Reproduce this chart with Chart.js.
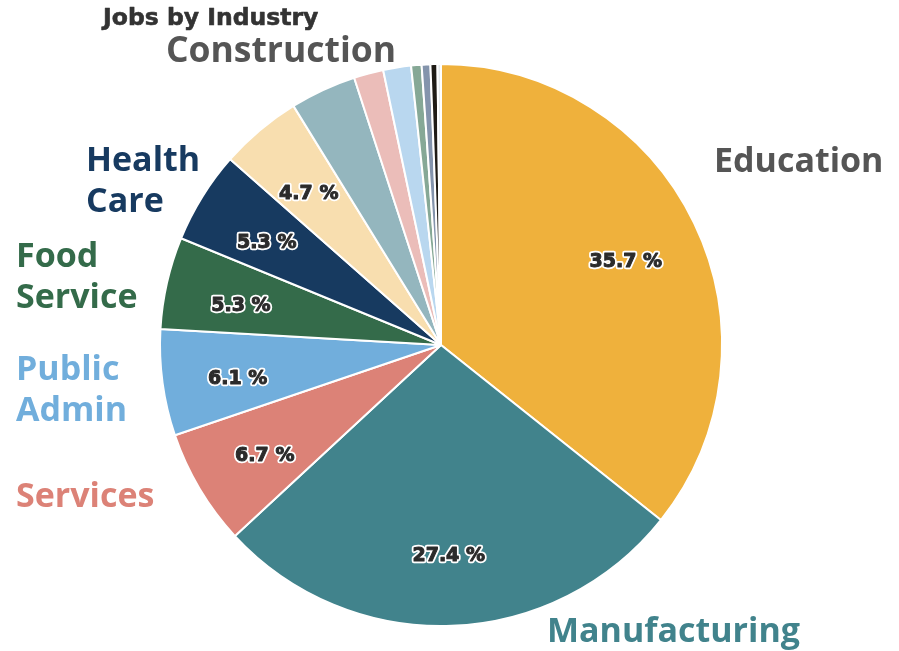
<!DOCTYPE html>
<html>
<head>
<meta charset="utf-8">
<script src="https://cdn.jsdelivr.net/npm/chart.js@4"></script>
<style>
  html, body { margin: 0; padding: 0; background: #fff; }
  #wrap { width: 899px; height: 651px; position: relative; }
</style>
</head>
<body>
<div id="wrap"><canvas id="jobsChart" width="899" height="651"></canvas></div>
<script>
const industries = ['Education', 'Manufacturing', 'Services', 'Public Admin', 'Food Service', 'Health Care',
    'Construction', 'Other 1', 'Other 2', 'Other 3', 'Other 4', 'Other 5', 'Other 6', 'Other 7'];
const shares = [35.7, 27.4, 6.7, 6.1, 5.3, 5.3, 4.7, 3.8, 1.7, 1.6, 0.6, 0.5, 0.4, 0.2];
const sliceColors = ['#EFB13C', '#41838C', '#DC8277', '#71AEDC', '#346B4A', '#173A60',
    '#F8DEAF', '#94B6BE', '#EBBDB9', '#B9D7EF', '#86A896', '#8494AC', '#1F1B15', '#E6EBED'];

// outside category labels (only the named industries)
const labelText = [['Education'], ['Manufacturing'], ['Services'], ['Public', 'Admin'], ['Food', 'Service'], ['Health', 'Care'], ['Construction']];
const labelColors = ['#555555', '#41838C', '#DC8277', '#71AEDC', '#346B4A', '#173A60', '#555555'];
const labelPos = [ // x, first baseline, align, font size
    [714, 172, 'left', 34], [547, 642, 'left', 34], [16, 507, 'left', 34], [16, 380, 'left', 34],
    [16, 267, 'left', 34], [86, 171, 'left', 34], [281, 62, 'center', 35.5]
];

const total = shares.reduce((a, b) => a + b, 0);

const labelPlugin = {
    id: 'labelPlugin',
    afterDraw(chart) {
        const ctx = chart.ctx;
        const meta = chart.getDatasetMeta(0);
        ctx.save();

        // percentage labels inside the slices
        ctx.font = 'bold 19px "DejaVu Sans"';
        ctx.textAlign = 'center';
        ctx.textBaseline = 'middle';
        ctx.lineJoin = 'round';
        meta.data.forEach((arc, i) => {
            const pct = shares[i] / total * 100;
            if (pct < 4) return;
            const mid = (arc.startAngle + arc.endAngle) / 2;
            const r = arc.outerRadius * 0.73;
            const x = arc.x + Math.cos(mid) * r;
            const y = arc.y + Math.sin(mid) * r + 6;
            const txt = pct.toFixed(1) + ' %';
            ctx.strokeStyle = '#ffffff';
            ctx.lineWidth = 4.5;
            ctx.strokeText(txt, x, y);
            ctx.strokeStyle = '#2b2b2b';
            ctx.lineWidth = 1;
            ctx.strokeText(txt, x, y);
            ctx.fillStyle = '#2b2b2b';
            ctx.fillText(txt, x, y);
        });

        // category names
        ctx.textBaseline = 'alphabetic';
        labelText.forEach((lines, i) => {
            const [x, y, align, size] = labelPos[i];
            ctx.font = 'bold ' + size + 'px "Open Sans"';
            ctx.fillStyle = labelColors[i];
            ctx.textAlign = align;
            lines.forEach((ln, j) => ctx.fillText(ln, x, y + j * 41));
        });

        // title
        ctx.font = 'bold 23.5px "DejaVu Sans"';
        ctx.fillStyle = '#333333';
        ctx.strokeStyle = '#333333';
        ctx.lineWidth = 0.6;
        ctx.textAlign = 'left';
        ctx.fillText('Jobs by Industry', 103, 25);
        ctx.strokeText('Jobs by Industry', 103, 25);
        ctx.restore();
    }
};

const ctx = document.getElementById('jobsChart').getContext('2d');
const jobsChart = new Chart(ctx, {
    type: 'pie',
    data: {
        labels: industries,
        datasets: [{
            data: shares,
            backgroundColor: sliceColors,
            borderColor: '#ffffff',
            borderWidth: 2
        }]
    },
    options: {
        responsive: false,
        animation: false,
        layout: {
            padding: { top: 63, bottom: 24, left: 159, right: 176 }
        },
        plugins: {
            legend: { display: false },
            tooltip: { enabled: false },
            title: { display: false }
        }
    },
    plugins: [labelPlugin]
});
</script>
</body>
</html>
